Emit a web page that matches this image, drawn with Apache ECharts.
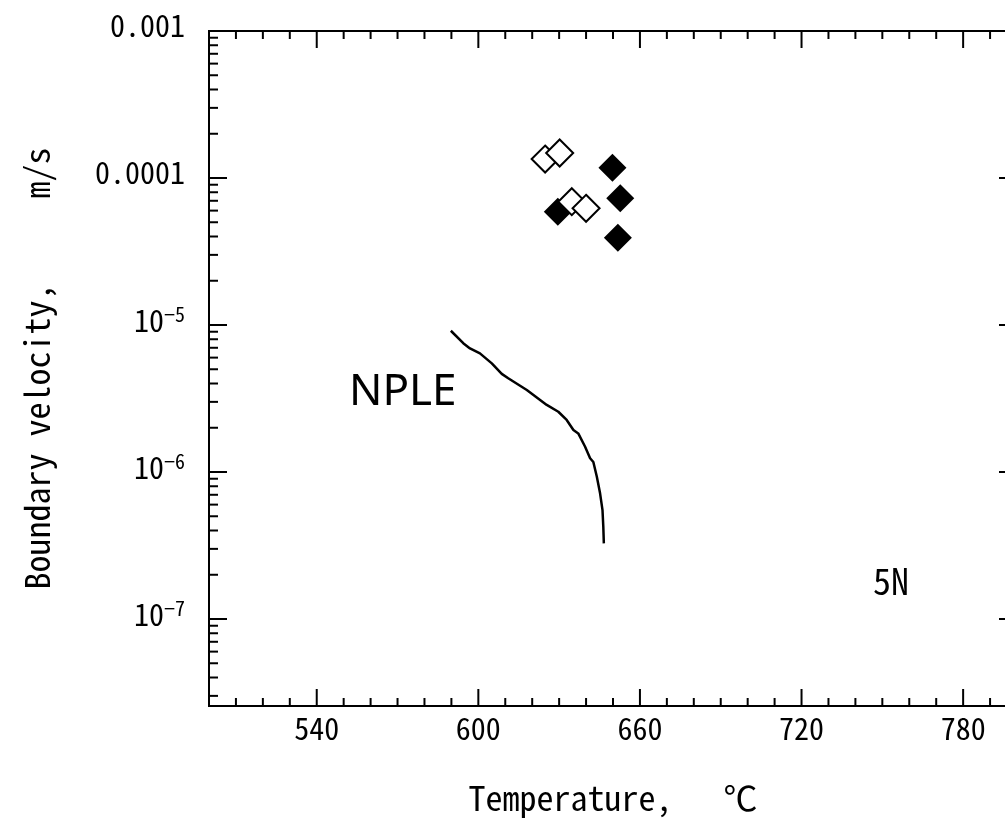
<!DOCTYPE html>
<html><head><meta charset="utf-8">
<script src="https://cdn.jsdelivr.net/npm/echarts@6/dist/echarts.min.js"></script>
<style>html,body{margin:0;padding:0;background:#fff;overflow:hidden;width:1005px;height:824px}#c{width:1040px;height:824px}</style>
</head><body><div id="c"></div>
<script>
// ---- data ----
const filledT = [629.5, 649.8, 652.7, 651.8];
const filledV = [5.9e-5, 1.175e-4, 7.28e-5, 3.93e-5];
const openT = [624.8, 630.2, 634.7, 640.0];
const openV = [1.345e-4, 1.48e-4, 6.9e-5, 6.22e-5];
const npleT = [589.8, 594.4, 596.9, 600.6, 605.0, 608.7, 611.1, 618.0, 625.4, 629.7, 632.8, 635.3, 637.1, 639.6, 641.5, 642.7, 644.0, 645.2, 646.1, 646.4, 646.6];
const npleV = [9.14e-6, 7.52e-6, 6.93e-6, 6.41e-6, 5.48e-6, 4.65e-6, 4.34e-6, 3.61e-6, 2.86e-6, 2.57e-6, 2.26e-6, 1.93e-6, 1.83e-6, 1.49e-6, 1.24e-6, 1.17e-6, 9.29e-7, 7.16e-7, 5.51e-7, 4.25e-7, 3.27e-7];
const xTickLabels = [540, 600, 660, 720, 780];
const yTickExps = [-3, -4, -5, -6, -7];
const yTickLabels = ['0.001', '0.0001', '{b|10}{s|\u22125}', '{b|10}{s|\u22126}', '{b|10}{s|\u22127}'];
const xRange = [500, 800];
const yRange = [2.56e-8, 1e-3];

// ---- tick marks (axis decoration) ----
const tickData = [];
for (let t = xRange[0]; t <= xRange[1]; t += 10) tickData.push([t, yRange[0], 0, t % 60 === 0 ? 1 : 0]);
for (let e = -8; e <= -4; e++) {
  for (let m = 1; m <= 9; m++) {
    const v = m * Math.pow(10, e);
    if (v >= yRange[0] && v <= yRange[1]) tickData.push([xRange[0], v, 1, m === 1 ? 1 : 0]);
  }
}
tickData.push([xRange[0], 1e-3, 1, 1]);

const MONO = "'Noto Sans Mono CJK JP', 'Noto Sans CJK JP', 'DejaVu Sans Mono', monospace";
const chart = echarts.init(document.getElementById('c'), null, {renderer: 'canvas'});
chart.setOption({
  animation: false,
  backgroundColor: '#fff',
  grid: {left: 209, top: 31, width: 808, height: 675, show: true, borderColor: '#000', borderWidth: 2, backgroundColor: 'transparent'},
  xAxis: {
    type: 'value', min: xRange[0], max: xRange[1], interval: 10,
    axisLine: {show: false}, axisTick: {show: false}, splitLine: {show: false},
    axisLabel: {
      margin: 8, color: '#000', fontFamily: MONO, fontSize: 30,
      formatter: v => (xTickLabels.indexOf(v) >= 0 ? String(v) : '')
    },
    name: 'Temperature,\u3000 \u2103', nameLocation: 'middle', nameGap: 75,
    nameTextStyle: {color: '#000', fontFamily: MONO, fontSize: 34}
  },
  yAxis: {
    type: 'log', min: yRange[0], max: yRange[1],
    axisLine: {show: false}, axisTick: {show: false}, splitLine: {show: false},
    axisLabel: {
      margin: 24, color: '#000', fontFamily: MONO, fontSize: 30, padding: [0, 0, 10, 0],
      formatter: v => {
        const e = Math.log10(v);
        const r = Math.round(e);
        if (Math.abs(e - r) > 1e-6) return '';
        const i = yTickExps.indexOf(r);
        return i >= 0 ? yTickLabels[i] : '';
      },
      rich: {
        b: {fontFamily: MONO, fontSize: 30, color: '#000', lineHeight: 32, verticalAlign: 'bottom'},
        s: {fontFamily: MONO, fontSize: 20, color: '#000', lineHeight: 32, verticalAlign: 'top'}
      }
    },
    name: 'Boundary velocity,\u3000\u3000 m/s', nameLocation: 'middle', nameGap: 155,
    nameTextStyle: {color: '#000', fontFamily: MONO, fontSize: 34}
  },
  graphic: [
    {type: 'text', left: 349, top: 370, style: {text: 'NPLE', font: "44px 'Noto Sans', sans-serif", fill: '#000'}},
    {type: 'text', left: 873, top: 563, style: {text: '5N', font: "36px " + MONO, fill: '#000'}}
  ],
  series: [
    {
      type: 'custom', silent: true, clip: false, z: 5,
      data: tickData,
      renderItem: (params, api) => {
        const kind = api.value(2), major = api.value(3);
        const st = {stroke: '#000', lineWidth: 2};
        if (kind === 0) {
          const len = major ? 17 : 8;
          const b = api.coord([api.value(0), yRange[0]]);
          const t = api.coord([api.value(0), yRange[1]]);
          return {type: 'group', children: [
            {type: 'line', shape: {x1: b[0], y1: b[1], x2: b[0], y2: b[1] - len}, style: st},
            {type: 'line', shape: {x1: t[0], y1: t[1], x2: t[0], y2: t[1] + len}, style: st}
          ]};
        } else {
          const len = major ? 18 : 9;
          const l = api.coord([xRange[0], api.value(1)]);
          const r = api.coord([xRange[1], api.value(1)]);
          return {type: 'group', children: [
            {type: 'line', shape: {x1: l[0], y1: l[1], x2: l[0] + len, y2: l[1]}, style: st},
            {type: 'line', shape: {x1: r[0], y1: r[1], x2: r[0] - len, y2: r[1]}, style: st}
          ]};
        }
      }
    },
    {
      type: 'line', data: npleT.map((t, i) => [t, npleV[i]]), showSymbol: false, symbol: 'none',
      lineStyle: {color: '#000', width: 2.5}, z: 3
    },
    {
      type: 'scatter', data: filledT.map((t, i) => [t, filledV[i]]), symbol: 'diamond', symbolSize: 28,
      itemStyle: {color: '#000', opacity: 1}, z: 3
    },
    {
      type: 'scatter', data: openT.map((t, i) => [t, openV[i]]), symbol: 'diamond', symbolSize: 27,
      itemStyle: {color: '#fff', borderColor: '#000', borderWidth: 2, opacity: 1}, z: 4
    }
  ]
});
</script></body></html>
